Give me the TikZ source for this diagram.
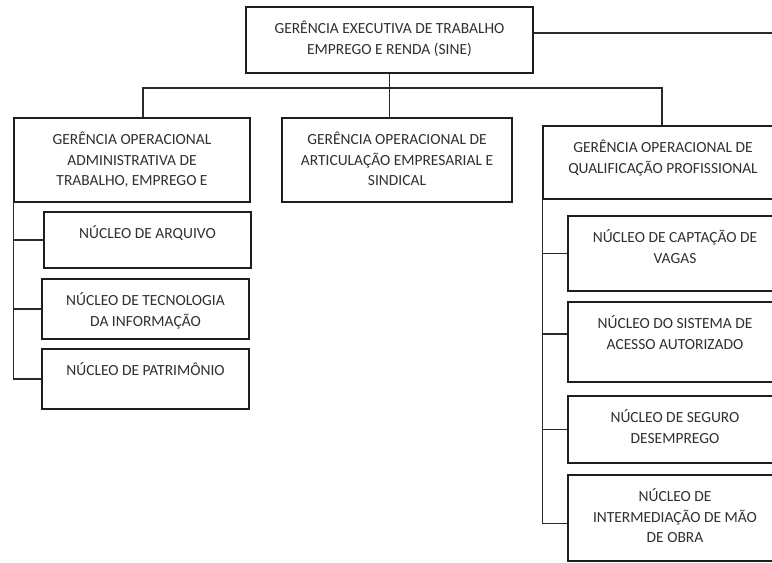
\documentclass[tikz,border=0pt]{standalone}
\usepackage{fontspec}
\setmainfont{Carlito}
\usetikzlibrary{positioning,calc}
\definecolor{boxline}{HTML}{1E1E1E}
\definecolor{wireline}{HTML}{2A2A2A}
\definecolor{txtgray}{HTML}{303030}
\begin{document}
\begin{tikzpicture}[x=0.75pt,y=-0.75pt]
        \useasboundingbox (0,0) rectangle (772,563);
        \clip (0,0) rectangle (772,563);
        \begin{scope}[every node/.style={rectangle,draw=boxline,line width=1.2pt,fill=white,inner sep=0pt}]
          \node[minimum width=215.25pt,minimum height=49.5pt] (sine) at (389.5,40) {};
          \node[minimum width=177pt,minimum height=63pt] (goadm) at (132,160) {};
          \node[minimum width=172.5pt,minimum height=63pt] (goart) at (397,160) {};
          \node[minimum width=180pt,minimum height=54.75pt] (goqual) at (663,162.5) {};
        \end{scope}
        \begin{scope}[every node/.style={rectangle,draw=boxline,line width=1.5pt,fill=white,inner sep=0pt}]
          \node[minimum width=155.25pt,minimum height=42pt] (arq) at (147.5,240) {};
          \node[minimum width=155.25pt,minimum height=45pt] (tec) at (145.5,309) {};
          \node[minimum width=155.25pt,minimum height=45pt] (pat) at (145.5,379) {};
          \node[minimum width=160.5pt,minimum height=56.25pt] (cap) at (675,253.5) {};
          \node[minimum width=160.5pt,minimum height=60pt] (sis) at (675,342) {};
          \node[minimum width=160.5pt,minimum height=50.25pt] (seg) at (675,429.5) {};
          \node[minimum width=160.5pt,minimum height=64.5pt] (int) at (675,518) {};
        \end{scope}
        \begin{scope}[every node/.style={align=center,inner sep=0pt,text=txtgray,font=\fontsize{11.6}{15.4}\selectfont}]
          \node[below=11pt of sine.north] (tsine) {GERÊNCIA EXECUTIVA DE TRABALHO\\EMPREGO E RENDA (SINE)};
          \node[below=11pt of goadm.north] (tgoadm) {GERÊNCIA OPERACIONAL\\ADMINISTRATIVA DE\\TRABALHO, EMPREGO E};
          \node[below=11pt of goart.north] (tgoart) {GERÊNCIA OPERACIONAL DE\\ARTICULAÇÃO EMPRESARIAL E\\SINDICAL};
          \node[below=11pt of goqual.north] (tgoqual) {GERÊNCIA OPERACIONAL DE\\QUALIFICAÇÃO PROFISSIONAL};
          \node[below=11pt of arq.north] (tarq) {NÚCLEO DE ARQUIVO};
          \node[below=11pt of tec.north] (ttec) {NÚCLEO DE TECNOLOGIA\\DA INFORMAÇÃO};
          \node[below=11pt of pat.north] (tpat) {NÚCLEO DE PATRIMÔNIO};
          \node[below=11pt of cap.north] (tcap) {NÚCLEO DE CAPTAÇÃO DE\\VAGAS};
          \node[below=11pt of sis.north] (tsis) {NÚCLEO DO SISTEMA DE\\ACESSO AUTORIZADO};
          \node[below=11pt of seg.north] (tseg) {NÚCLEO DE SEGURO\\DESEMPREGO};
          \node[below=11pt of int.north] (tint) {NÚCLEO DE\\INTERMEDIAÇÃO DE MÃO\\DE OBRA};
        \end{scope}
        \coordinate (rend) at (780,33);
        \coordinate (busl) at (143,88);
        \coordinate (busr) at (662,88);
        \begin{scope}[every path/.style={draw=wireline,line width=1pt}]
          \path (sine.east |- rend) -- (rend);
          \path (sine.south) -- (sine.south |- goart.north);
          \path (busl |- goadm.north) -- (busl) -- (busr) -- (busr |- goqual.north);
          \path (goadm.south west) |- (pat.west);
          \path (goadm.south west |- arq.west) -- (arq.west);
          \path (goadm.south west |- tec.west) -- (tec.west);
          \path (goqual.south west) |- ($(int.north west)!0.56!(int.south west)$);
          \path (goqual.south west |- cap.west) -- (cap.west);
          \path (goqual.south west |- sis.west) ++(0,-8) -- ++(25,0);
          \path (goqual.south west |- seg.west) -- (seg.west);
        \end{scope}
      \end{tikzpicture}
\end{document}
